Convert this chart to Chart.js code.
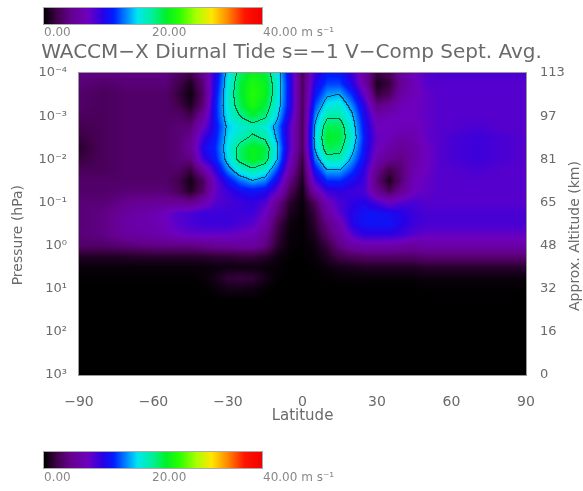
<!DOCTYPE html>
<html>
<head>
<meta charset="utf-8">
<script src="https://cdn.jsdelivr.net/npm/chart.js"></script>
<style>
body { margin: 0; background: #fff; }
#wrap { position: relative; width: 583px; height: 491px; font-family: "DejaVu Sans", sans-serif; }
#chart { position: absolute; left: 0; top: 0; }
.cbar { position: absolute; left: 43px; width: 220px; height: 18px; border: 1px solid #aaa; box-sizing: border-box; }
.lab { position: absolute; font-size: 12px; color: #888; white-space: nowrap; line-height: 14px; }
</style>
</head>
<body>
<div id="wrap">
  <canvas id="chart" width="583" height="491"></canvas>
  <div class="cbar" id="cbTop" style="top:7px"></div>
  <div class="lab" style="left:44px;top:25px">0.00</div>
  <div class="lab" style="left:152px;top:25px">20.00</div>
  <div class="lab" style="left:263px;top:25px">40.00 m s⁻¹</div>
  <div class="cbar" id="cbBot" style="top:451px"></div>
  <div class="lab" style="left:44px;top:470px">0.00</div>
  <div class="lab" style="left:152px;top:470px">20.00</div>
  <div class="lab" style="left:263px;top:470px">40.00 m s⁻¹</div>
</div>
<script>
// latitude (deg) of each column, log10 pressure (hPa) of each row
const lats = [-90,-80,-70,-60,-55,-50,-45,-40,-35,-30,-25,-20,-15,-10,-5,0,5,10,15,20,25,30,35,40,45,50,55,60,70,80,90];
const logP = [-4,-3.75,-3.5,-3.25,-3,-2.75,-2.5,-2.25,-2,-1.75,-1.5,-1.25,-1,-0.75,-0.5,-0.25,0,0.25,0.5,0.75,1,1.25,1.5,2,2.5,3];

// tide amplitude, m/s  (rows follow logP, columns follow lats)
const speed = [
  [4.5,4.5,4.5,4.5,4.5,3.5,2.5,5,11,17,21,23,22,17.5,11,3,10,12.5,12.5,10,6,2,3,6,8,9,9.5,9.5,9.5,9.5,9.5],
  [4,3.5,4,4,4,2.5,1,4,11.5,17.5,22,24,23,18,11.5,3,11,13.5,13.5,11,6.5,1,2,5.5,7.5,9,9,9,9,9,9],
  [3.5,3,3.5,3.5,3.5,2,0.5,3.5,12,18,22,24.5,23,18,11.5,3,12,15.5,16,13,8.5,2,3,6.5,7.5,8.5,9,9,9,9,9],
  [3.5,3,3.5,3.5,3.5,2.5,1,4,12.5,18,21.5,24,22,17.5,11.5,3,13.5,17.5,18,15,10.5,4.5,5.5,7.5,8,8.5,9,9,9,9,9],
  [3,3,3.5,3.5,3.5,3.5,2.5,6,12.5,17.5,20,22,20.5,16.5,10.5,3,15,19.5,19.5,16.5,11.5,7,7.5,8,8,8.5,9,9,9,9,9],
  [2.5,3,3.5,3.5,3.5,4,4,8,12,16.5,18,19,18,15,9,3,16,21.5,21.5,17.5,12,8,8,7.5,7.5,8.5,9,9,9.5,9,9],
  [2,3,3.5,3.5,3.5,4,5,10,12.5,17,19,20.5,19.5,15.5,9,3,16.5,22.5,22,18,12.5,8.5,7.5,6.5,7,8.5,9,9.5,10,9.5,9],
  [1.5,3,3.5,3.5,3.5,4,5.5,11,13,17.5,21,23,22,16.5,9,3,16,21.5,21,17,12,8,6.5,5.5,6.5,8,9,9.5,10,9.5,9],
  [2,3,3.5,3.5,3.5,4,4.5,10,12.5,17,21,23,21.5,16,8,2,14.5,19,19,15.5,11.5,7,5,4.5,6.5,8,9,9.5,10,9.5,9],
  [3,3,3.5,3.5,3.5,3.5,2,6,10.5,15,18,19.5,18,13.5,6.5,1.5,12,16,16,13.5,10.5,5,2.5,4,7,8,9,9,9.5,9,9],
  [3.5,3.5,3.5,3.5,3.5,2.5,0.7,3,8.5,12,14.5,16,15,11,4.5,1,9.5,13,13,11.5,10,4,1,4,7.5,8.5,9,9,9,9,9],
  [3.5,3.5,4,4,4,3,1.2,3.5,8.5,10,11.5,12,11.5,8.5,3,0.5,6.5,10,10.5,10,9.5,5.5,3,5.5,8,8.5,9,9,9,9,9],
  [4,4,5,5.5,5.5,5.5,5,7,9,9.5,10,10.5,9.5,5,1.5,0.3,3,7.5,9.5,10.5,11,9.5,8,9,9.5,9,9,9,9,9,9],
  [4,4.5,6,7,8,9,9.5,10,10,10,10,10,8,4,1,0.2,2,6,9,11,12,12,11.5,11,10,9.5,9.5,9.5,9.5,9.5,9.5],
  [4,4.5,6.5,7,8,9,9.5,10,10,10,9.5,9,7,2.5,0.5,0.1,1.5,4.5,7,11,12,12,12,11,10,9.5,9.5,9.5,9.5,9.5,9.5],
  [4,4.5,6,6.5,7,8,8.5,8.5,8.5,8.5,8,7.5,5.5,2,0.3,0.1,1,3.5,6,9,10.5,10.5,10.5,10,9,8.5,8.5,8.5,8.5,8.5,8.5],
  [3.5,3.5,4,4.5,4.5,4.5,4.5,5,5.5,5.5,6,6,4.5,1.5,0.2,0.1,0.5,2,4.5,6.5,7,7,7,6.5,6,6.5,6.5,6.5,6.5,6.5,6.5],
  [1.2,1.2,1.3,1.5,1.5,1.5,1.5,1.5,1.8,1.8,2,2,1.5,0.5,0.1,0,0.3,1.2,2.5,3,3.5,3.5,3.5,3.5,3.5,4,4,4,4,4,4],
  [0.3,0.3,0.3,0.3,0.3,0.3,0.3,0.3,0.4,0.5,0.5,0.5,0.4,0.2,0,0,0.1,0.4,0.8,1,1.2,1.2,1.2,1.2,1.2,1.5,1.5,1.5,1.5,1.5,1.5],
  [0.1,0.1,0.1,0.1,0.1,0.1,0.1,0.2,0.8,1.8,2,1.8,0.8,0.1,0,0,0,0.1,0.2,0.3,0.3,0.3,0.3,0.3,0.3,0.4,0.4,0.4,0.4,0.4,0.4],
  [0,0,0,0,0,0,0,0.1,0.3,0.8,0.8,0.6,0.2,0,0,0,0,0,0,0,0,0,0,0,0,0.1,0.1,0.1,0.1,0.1,0.1],
  [0,0,0,0,0,0,0,0,0,0,0,0,0,0,0,0,0,0,0,0,0,0,0,0,0,0,0,0,0,0,0],
  [0,0,0,0,0,0,0,0,0,0,0,0,0,0,0,0,0,0,0,0,0,0,0,0,0,0,0,0,0,0,0],
  [0,0,0,0,0,0,0,0,0,0,0,0,0,0,0,0,0,0,0,0,0,0,0,0,0,0,0,0,0,0,0],
  [0,0,0,0,0,0,0,0,0,0,0,0,0,0,0,0,0,0,0,0,0,0,0,0,0,0,0,0,0,0,0],
  [0,0,0,0,0,0,0,0,0,0,0,0,0,0,0,0,0,0,0,0,0,0,0,0,0,0,0,0,0,0,0]
];

const contourLevels = [16, 20];
const pressureTicks = [1e-4, 1e-3, 1e-2, 1e-1, 1e0, 1e1, 1e2, 1e3];
const pressureLabels = ['10⁻⁴','10⁻³','10⁻²','10⁻¹','10⁰','10¹','10²','10³'];
const altitudeTicks = ['113','97','81','65','48','32','16','0'];
const vMax = 40;

// colour table (rainbow + black)
const cmapPos = [0,0.06,0.12,0.2,0.27,0.32,0.38,0.43,0.5,0.56,0.62,0.7,0.77,0.84,0.92,1];
const cmapRGB = [[0,0,0],[65,0,75],[100,0,140],[110,0,190],[40,0,230],[0,30,255],[0,140,255],[0,230,240],[0,240,150],[0,240,40],[40,255,0],[170,255,0],[255,230,0],[255,140,0],[255,20,0],[240,0,0]];

function colorOf(v) {
  let t = Math.max(0, Math.min(1, v / vMax));
  for (let i = 0; i < cmapPos.length - 1; i++) {
    if (t <= cmapPos[i+1]) {
      const f = (t - cmapPos[i]) / (cmapPos[i+1] - cmapPos[i]);
      const a = cmapRGB[i], b = cmapRGB[i+1];
      return [a[0]+(b[0]-a[0])*f, a[1]+(b[1]-a[1])*f, a[2]+(b[2]-a[2])*f];
    }
  }
  return cmapRGB[cmapRGB.length-1];
}

const grad = 'linear-gradient(to right,' + cmapPos.map((p, i) => `rgb(${cmapRGB[i].join(',')}) ${p*100}%`).join(',') + ')';
document.getElementById('cbTop').style.background = grad;
document.getElementById('cbBot').style.background = grad;

function locate(arr, v) {
  if (v <= arr[0]) return [0, 0];
  for (let i = 0; i < arr.length - 1; i++) {
    if (v <= arr[i+1]) return [i, (v - arr[i]) / (arr[i+1] - arr[i])];
  }
  return [arr.length - 2, 1];
}

const points = [];
logP.forEach((e, r) => lats.forEach((la, c) => points.push({x: la, y: Math.pow(10, e), v: speed[r][c]})));

const txt = '#6a6a6a';
const fam = '"DejaVu Sans", sans-serif';

const fieldPlugin = {
  id: 'field',
  beforeDatasetsDraw(chart) {
    const {ctx, chartArea: a, scales: {x, y}} = chart;
    const w = Math.round(a.right - a.left), h = Math.round(a.bottom - a.top);
    const off = document.createElement('canvas');
    off.width = w; off.height = h;
    const octx = off.getContext('2d');
    const img = octx.createImageData(w, h);
    const vals = new Float32Array(w * h);
    const cols = [];
    for (let i = 0; i < w; i++) cols.push(locate(lats, x.getValueForPixel(a.left + i + 0.5)));
    for (let j = 0; j < h; j++) {
      const [r, fy] = locate(logP, Math.log10(y.getValueForPixel(a.top + j + 0.5)));
      const r0 = speed[r], r1 = speed[r+1];
      for (let i = 0; i < w; i++) {
        const [c, fx] = cols[i];
        vals[j*w + i] = (1-fy)*((1-fx)*r0[c] + fx*r0[c+1]) + fy*((1-fx)*r1[c] + fx*r1[c+1]);
      }
    }
    for (let j = 0; j < h; j++) {
      for (let i = 0; i < w; i++) {
        const k = j*w + i, v = vals[k];
        let rgb = colorOf(v);
        for (const L of contourLevels) {
          const up = v >= L;
          if ((i < w-1 && (vals[k+1] >= L) !== up) || (j < h-1 && (vals[k+w] >= L) !== up)) {
            rgb = rgb.map(c => c * 0.4);
          }
        }
        img.data[k*4] = rgb[0]; img.data[k*4+1] = rgb[1]; img.data[k*4+2] = rgb[2]; img.data[k*4+3] = 255;
      }
    }
    octx.putImageData(img, 0, 0);
    ctx.drawImage(off, a.left, a.top);
  },
  afterDatasetsDraw(chart) {
    const {ctx, chartArea: a} = chart;
    ctx.save();
    ctx.strokeStyle = '#999';
    ctx.lineWidth = 1;
    ctx.strokeRect(a.left - 0.5, a.top - 0.5, a.right - a.left + 1, a.bottom - a.top + 1);
    ctx.translate(575, 236);
    ctx.rotate(-Math.PI / 2);
    ctx.fillStyle = txt;
    ctx.font = '14px ' + fam;
    ctx.textAlign = 'center';
    ctx.textBaseline = 'middle';
    ctx.fillText('Approx. Altitude (km)', 0, 0);
    ctx.restore();
  }
};

new Chart(document.getElementById('chart'), {
  type: 'scatter',
  data: { datasets: [{ data: points, pointRadius: 0 }] },
  options: {
    responsive: false,
    animation: false,
    layout: { padding: { top: 40, left: 0, right: 0, bottom: 66 } },
    plugins: {
      legend: { display: false },
      tooltip: { enabled: false },
      title: {
        display: true,
        text: 'WACCM−X Diurnal Tide s=−1 V−Comp Sept. Avg.',
        color: txt,
        font: { family: fam, size: 20, weight: 'normal' },
        padding: { top: 1, bottom: 8 }
      }
    },
    scales: {
      x: {
        type: 'linear', min: -90, max: 90,
        grid: { display: false }, border: { display: false },
        ticks: { stepSize: 30, padding: 11, color: txt, font: { family: fam, size: 14 },
          callback: v => v < 0 ? '−' + Math.abs(v) : String(v) },
        title: { display: true, text: 'Latitude', color: txt, font: { family: fam, size: 15 }, padding: { top: 0, bottom: 0 } },
        afterFit: s => { s.height = 50; }
      },
      y: {
        type: 'logarithmic', reverse: true, min: 1e-4, max: 1e3,
        grid: { display: false }, border: { display: false },
        afterBuildTicks: s => { s.ticks = pressureTicks.map(v => ({ value: v })); },
        ticks: { padding: 4, color: txt, font: { family: fam, size: 13 },
          callback: (v, i) => pressureLabels[i] },
        title: { display: true, text: 'Pressure (hPa)     ', color: txt, font: { family: fam, size: 14 }, padding: { top: 10, bottom: 0 } },
        afterFit: s => { s.width = 79; }
      },
      y2: {
        type: 'logarithmic', position: 'right', reverse: true, min: 1e-4, max: 1e3,
        grid: { display: false }, border: { display: false },
        afterBuildTicks: s => { s.ticks = pressureTicks.map(v => ({ value: v })); },
        ticks: { padding: 6, color: txt, font: { family: fam, size: 13 },
          callback: (v, i) => altitudeTicks[i] },
        afterFit: s => { s.width = 57; }
      }
    }
  },
  plugins: [fieldPlugin]
});
</script>
</body>
</html>
